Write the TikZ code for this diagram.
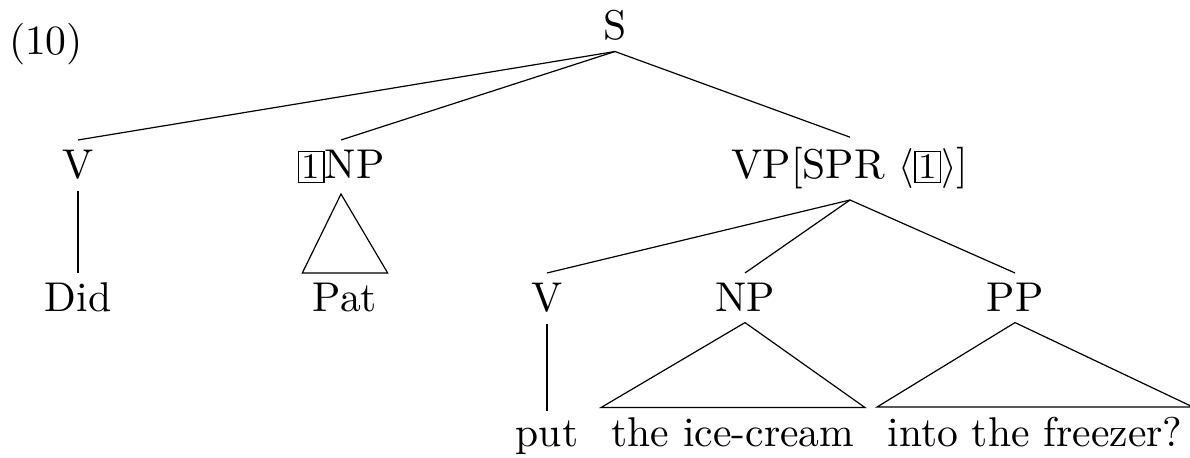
\documentclass[tikz,border=0pt]{standalone}
\usepackage{tikz}

\newcommand{\boxtag}[1]{{\setlength{\fboxsep}{0.7pt}\fbox{\small #1}}}

\begin{document}
\begin{tikzpicture}[x=0.25pt,y=-0.25pt,line width=0.3pt,
    every node/.style={inner sep=2.5pt,anchor=base,font=\fontsize{10.4pt}{12pt}\selectfont}]
  \useasboundingbox (0,0) rectangle (1190,458);

  \node (ex) at (46,55) {(10)};
  \node (s) at (615,40) {S};

  \node (v) at (78,179) {V};
  \node (np) at (341,179) {\boxtag{1}NP};
  \node (vp) at (850,179) {VP[SPR $\langle$\boxtag{1}$\rangle$]};

  \node (did) at (78,312) {Did};
  \node (pat) at (345,312) {Pat};
  \node (v2) at (547,312) {V};
  \node (np2) at (745,312) {NP};
  \node (pp) at (1015,312) {PP};

  \node (put) at (547,447) {put};
  \node (obj) at (733,447) {the ice-cream};
  \node (loc) at (1035,447) {into the freezer?};

  %s>daughters
  \draw (s.south) -- (v.north);
  \draw (s.south) -- (np.north);
  \draw (s.south) -- (vp.north);

  %vp>daughters
  \draw (vp.south) -- (v2.north);
  \draw (vp.south) -- (np2.north);
  \draw (vp.south) -- (pp.north);

  %leaves
  \draw (v.south) -- (did.north);
  \draw (v2.south) -- (put.north);
  \draw (np.south) -- (pat.north west) -- (pat.north east) -- cycle;
  \draw (np2.south) -- (obj.north west) -- (obj.north east) -- cycle;
  \draw (pp.south) -- (loc.north west) -- (loc.north east) -- cycle;
\end{tikzpicture}
\end{document}
